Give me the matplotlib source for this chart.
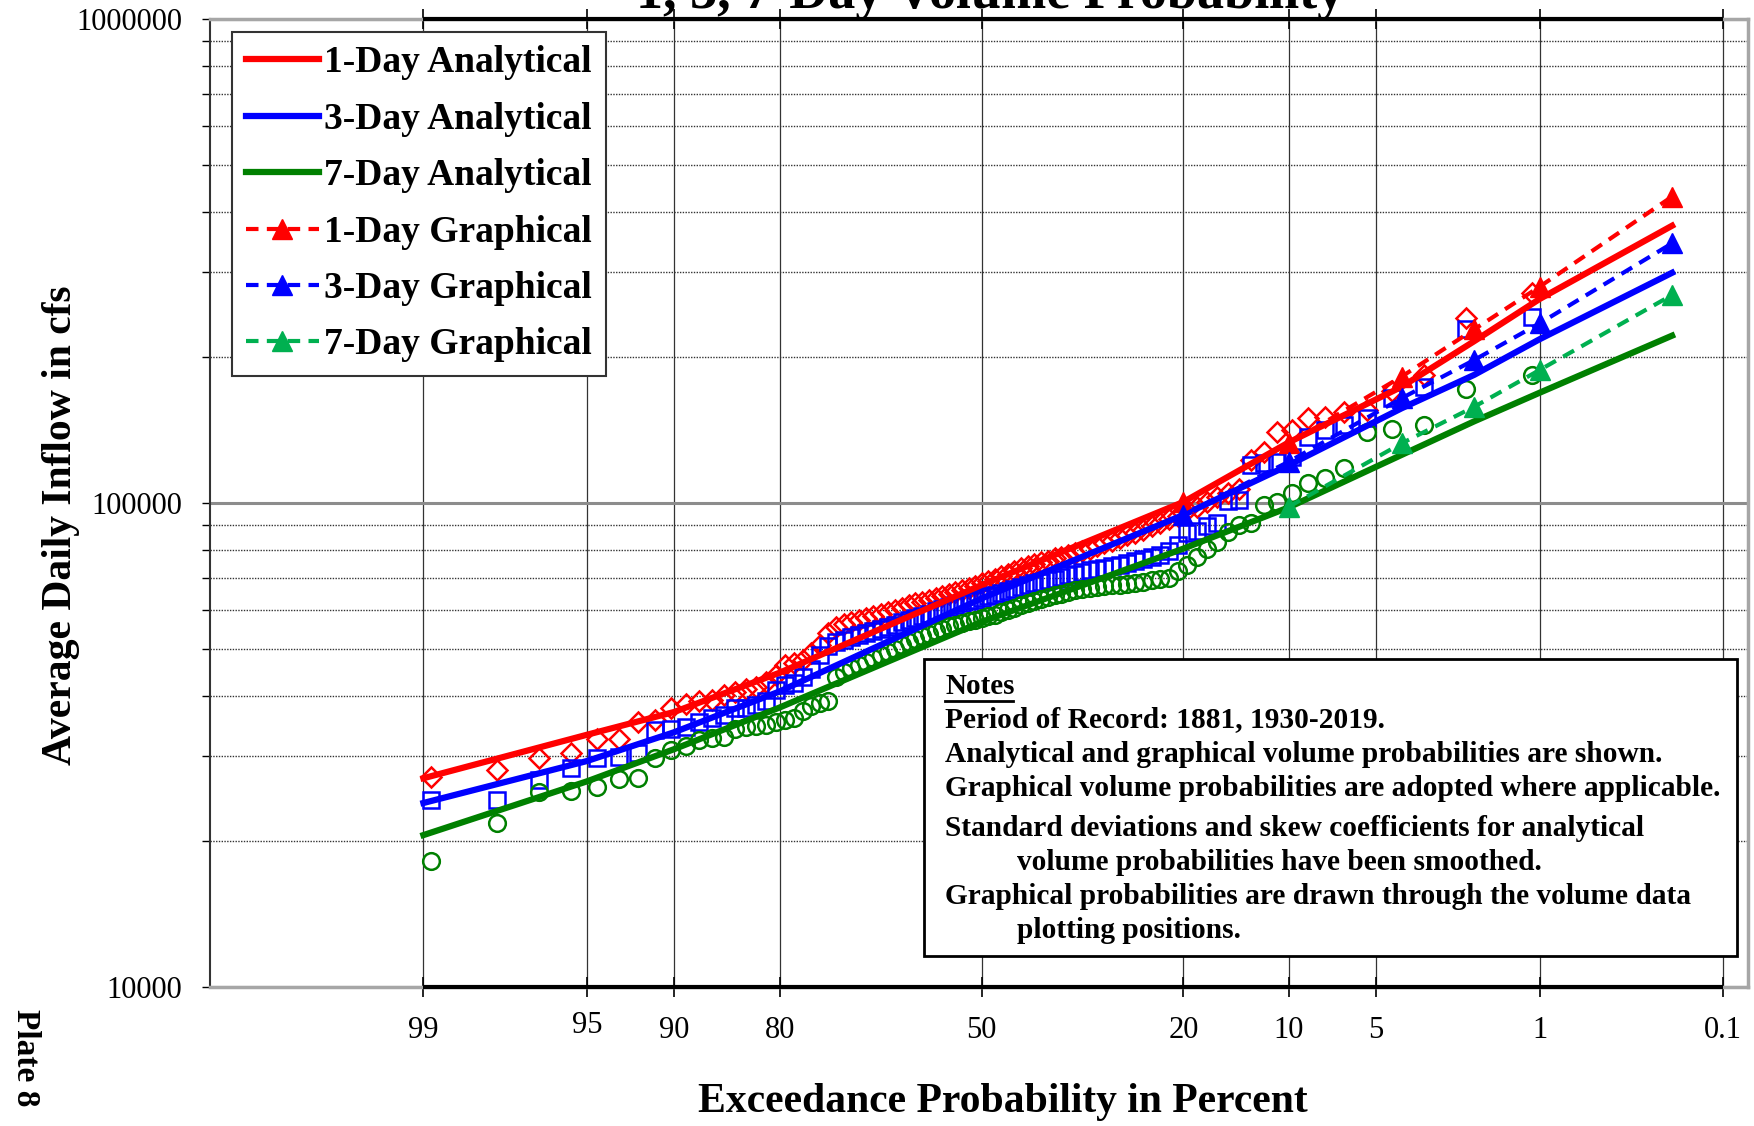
import matplotlib
matplotlib.use('Agg')
import matplotlib.pyplot as plt
from matplotlib.lines import Line2D
from matplotlib.patches import Rectangle
from matplotlib.ticker import FixedLocator, NullFormatter
from statistics import NormalDist

plt.rcParams['font.family'] = ['Liberation Serif', 'DejaVu Serif']

# plotting positions (exceedance %) for the 91 years of record, largest first
exceed_pct = [1.09, 2.17, 3.26, 4.35, 5.43, 6.52, 7.61, 8.70, 9.78, 10.87,
              11.96, 13.04, 14.13, 15.22, 16.30, 17.39, 18.48, 19.57, 20.65, 21.74,
              22.83, 23.91, 25.00, 26.09, 27.17, 28.26, 29.35, 30.43, 31.52, 32.61,
              33.70, 34.78, 35.87, 36.96, 38.04, 39.13, 40.22, 41.30, 42.39, 43.48,
              44.57, 45.65, 46.74, 47.83, 48.91, 50.00, 51.09, 52.17, 53.26, 54.35,
              55.43, 56.52, 57.61, 58.70, 59.78, 60.87, 61.96, 63.04, 64.13, 65.22,
              66.30, 67.39, 68.48, 69.57, 70.65, 71.74, 72.83, 73.91, 75.00, 76.09,
              77.17, 78.26, 79.35, 80.43, 81.52, 82.61, 83.70, 84.78, 85.87, 86.96,
              88.04, 89.13, 90.22, 91.30, 92.39, 93.48, 94.57, 95.65, 96.74, 97.83,
              98.91]

day1_obs = [271300, 240800, 183900, 170400, 156000, 154400, 150800, 149700, 141600, 140400,
            127700, 122700, 107100, 104700, 103000, 100500, 98200, 96700, 94000, 92500,
            91000, 89500, 88000, 86800, 85800, 84500, 83500, 82500, 81500, 80500,
            79500, 78800, 78000, 77500, 76800, 76000, 75500, 74800, 74000, 73500,
            72500, 71500, 70500, 69800, 69000, 68200, 67500, 66800, 66200, 65500,
            65000, 64300, 63700, 63000, 62500, 62000, 61500, 60800, 60000, 59500,
            59000, 58300, 57800, 57300, 56800, 56200, 55500, 54000, 51000, 49000,
            47400, 46700, 46300, 44100, 42700, 41700, 41200, 40700, 40100, 39200,
            38900, 38500, 37700, 35600, 35300, 32600, 32500, 30400, 29700, 28100,
            27200]

day3_obs = [242800, 228500, 173800, 164600, 149700, 144900, 141600, 137100, 124700, 121800,
            120800, 119800, 101400, 101000, 91000, 89500, 87500, 86800, 82000, 79500,
            78100, 77300, 76600, 75800, 75100, 74500, 74000, 73500, 73000, 72600,
            72000, 71400, 70900, 70400, 69800, 69300, 68800, 68200, 67600, 67000,
            66400, 65800, 65200, 64600, 64100, 63600, 63100, 62600, 62100, 61600,
            61100, 60400, 59700, 59000, 58400, 57800, 57300, 56700, 56100, 55500,
            55000, 54500, 54000, 53300, 52800, 52100, 51600, 50700, 48500, 45500,
            43800, 42400, 42000, 41100, 38900, 38200, 37700, 37700, 36500, 35900,
            35300, 34400, 34200, 34000, 30400, 29900, 29700, 28300, 26800, 24400,
            24350]

day7_obs = [183900, 171700, 144900, 142000, 140400, 117900, 112400, 109800, 104700, 100600,
            99100, 90800, 90100, 87000, 83000, 80500, 77500, 74500, 72300, 70000,
            69500, 69200, 68800, 68400, 68100, 67800, 67600, 67300, 67000, 66700,
            66300, 66000, 65500, 65000, 64500, 64000, 63400, 62800, 62200, 61600,
            60800, 60000, 59400, 58800, 58300, 57800, 57400, 57000, 56600, 56100,
            55600, 55000, 54300, 53700, 53000, 52300, 51600, 50800, 50000, 49300,
            48500, 47800, 47000, 46300, 45600, 44800, 43800, 39000, 38600, 38000,
            37200, 35900, 35600, 35300, 34800, 34600, 34500, 34200, 32900, 32650,
            32400, 31400, 30900, 29700, 27000, 26900, 25900, 25400, 25300, 21800,
            18200]

# analytical frequency curves
curve_pct = [99, 95, 90, 80, 50, 20, 10, 4, 2, 1, 0.2]
day1_analytical = [27000, 33200, 37000, 44600, 67700, 100500, 133500, 173800, 216000, 264000, 374000]
day3_analytical = [24000, 29300, 33600, 40800, 63500, 94500, 119800, 156900, 184000, 218000, 299000]
day7_analytical = [20600, 26600, 31000, 37800, 56800, 80500, 98000, 125700, 147500, 169000, 221700]

# graphical frequency curves
graph_pct = [20, 10, 4, 2, 1, 0.2]
day1_graphical = [100500, 132800, 182400, 228500, 279900, 429600]
day3_graphical = [94500, 121800, 164600, 197500, 235100, 344000]
graph7_pct = [10, 4, 2, 1, 0.2]
day7_graphical = [98300, 132800, 158100, 188300, 269000]

tick_pct = [99, 95, 90, 80, 50, 20, 10, 5, 1, 0.1]
tick_labels = ['99', '95', '90', '80', '50', '20', '10', '5', '1', '0.1']

# (text, indented, y centre in px from top)
notes = [
    ('Period of Record: 1881, 1930-2019.', False, 720),
    ('Analytical and graphical volume probabilities are shown.', False, 755),
    ('Graphical volume probabilities are adopted where applicable.', False, 789),
    ('Standard deviations and skew coefficients for analytical', False, 829),
    ('volume probabilities have been smoothed.', True, 862),
    ('Graphical probabilities are drawn through the volume data', False, 896),
    ('plotting positions.', True, 930),
]

nd = NormalDist()


def to_z(pcts):
    return [nd.inv_cdf(1 - p / 100.0) for p in pcts]


W, H = 1754, 1126
fig = plt.figure(figsize=(W / 100, H / 100), dpi=100)
ax = fig.add_axes([210 / W, 1 - 987 / H, 1538 / W, 968 / H])
ax.set_yscale('log')
ax.set_ylim(1e4, 1e6)
ax.set_xlim(to_z([99.935])[0], to_z([0.07])[0])

# grid
ax.set_xticks(to_z(tick_pct))
ax.set_xticklabels(tick_labels, fontsize=22)
ax.set_yticks([1e4, 1e5, 1e6], labels=['10000', '100000', '1000000'])
ax.yaxis.set_minor_locator(FixedLocator([k * 10 ** e for e in (4, 5) for k in range(2, 10)]))
ax.yaxis.set_minor_formatter(NullFormatter())
ax.xaxis.grid(True, color='#333333', lw=0.9)
ax.yaxis.grid(True, which='major', color='#8c8c8c', lw=2.2)
ax.yaxis.grid(True, which='minor', color='#333333', lw=1.0, ls=(0, (1, 1)))
ax.set_axisbelow(True)

ax.tick_params(axis='x', which='major', direction='inout', length=14, width=1.2,
               top=True, bottom=True, pad=14, labelsize=22)
ax.tick_params(axis='y', which='both', direction='out', length=6, width=1,
               left=True, right=False, pad=14, labelsize=22)
ax.xaxis.get_major_ticks()[1].set_pad(10)

for side in ['top', 'bottom', 'right']:
    ax.spines[side].set_color('#a6a6a6')
    ax.spines[side].set_linewidth(2.5)
ax.spines['left'].set_color('#333333')
ax.spines['left'].set_linewidth(1.5)
z_lo, z_hi = to_z([99, 0.1])
ax.hlines([0, 1], z_lo, z_hi, transform=ax.get_xaxis_transform(), color='black',
          lw=3, clip_on=False, zorder=6)

# observed volumes
z_obs = to_z(exceed_pct)
ax.plot(z_obs, day1_obs, ls='none', marker='D', ms=10, mfc='none', mec='#ff0000', mew=1.8, zorder=3)
ax.plot(z_obs, day3_obs, ls='none', marker='s', ms=11, mfc='none', mec='#0000ff', mew=1.8, zorder=3)
ax.plot(z_obs, day7_obs, ls='none', marker='o', ms=12, mfc='none', mec='#008000', mew=1.8, zorder=3)

# curves
z_curve = to_z(curve_pct)
ax.plot(z_curve, day1_analytical, color='#ff0000', lw=4.5, label='1-Day Analytical', zorder=4)
ax.plot(z_curve, day3_analytical, color='#0000ff', lw=4.5, label='3-Day Analytical', zorder=4)
ax.plot(z_curve, day7_analytical, color='#008000', lw=4.5, label='7-Day Analytical', zorder=4)
dash = (0, (3, 2))
ax.plot(to_z(graph_pct), day1_graphical, color='#ff0000', lw=3, ls=dash, marker='^', ms=15,
        label='1-Day Graphical', zorder=5)
ax.plot(to_z(graph_pct), day3_graphical, color='#0000ff', lw=3, ls=dash, marker='^', ms=15,
        label='3-Day Graphical', zorder=5)
ax.plot(to_z(graph7_pct), day7_graphical, color='#00b050', lw=3, ls=dash, marker='^', ms=15,
        label='7-Day Graphical', zorder=5)

leg = ax.legend(loc='upper left', bbox_to_anchor=((232 - 210) / 1538, (987 - 32) / 968),
                borderaxespad=0, prop={'weight': 'bold', 'size': 27}, fancybox=False,
                edgecolor='#333333', framealpha=1, handlelength=1.95, handletextpad=0.15,
                labelspacing=0.57, borderpad=0.36)
leg.get_frame().set_linewidth(1.5)
leg.set_zorder(10)

# notes box
fig.add_artist(Rectangle((924 / W, 1 - 956 / H), 813 / W, 297 / H, transform=fig.transFigure,
                         facecolor='white', edgecolor='black', lw=2, zorder=10))
fig.text(945 / W, 1 - 686 / H, 'Notes', fontsize=21, fontweight='bold', va='center', zorder=11)
fig.add_artist(Line2D([945 / W, 1013 / W], [1 - 701 / H, 1 - 701 / H], color='black', lw=2,
                      transform=fig.transFigure, zorder=11))
for line, indented, y in notes:
    x = 1017 if indented else 945
    fig.text(x / W, 1 - y / H, line, fontsize=21.2, fontweight='bold', va='center', zorder=11)

# titles and labels
fig.text(990 / W, 1 - 8 / H, '1, 3, 7-Day Volume Probability', fontsize=39, fontweight='bold',
         ha='center', va='baseline')
fig.text(61 / W, 1 - 525 / H, 'Average Daily Inflow in cfs', rotation=90, fontsize=30,
         fontweight='bold', ha='center', va='center')
fig.text(1003 / W, 1 - 1102 / H, 'Exceedance Probability in Percent', fontsize=30,
         fontweight='bold', ha='center', va='center')
fig.text(25 / W, 1 - 1058 / H, 'Plate 8', rotation=-90, fontsize=24, fontweight='bold',
         ha='center', va='center')

fig.savefig('out.png', dpi=100)
